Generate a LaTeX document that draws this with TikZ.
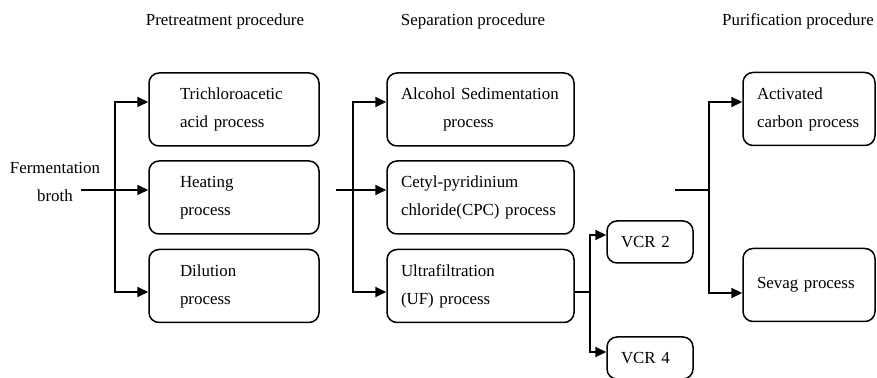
\documentclass[tikz,border=0pt]{standalone}
\usepackage{fontspec}
\setmainfont{Liberation Serif}
\usetikzlibrary{positioning,arrows.meta}
\tikzstyle{every node}=[font=\fontsize{8.45}{14}\selectfont]
\tikzstyle{procbox}=[draw=black,line width=0.75pt,rounded corners=5pt,align=left,inner ysep=0pt,minimum height=36.5pt]
\tikzstyle{pretreat}=[procbox,inner xsep=15.5pt,text width=54pt]
\tikzstyle{separate}=[procbox,inner xsep=7pt,text width=79.5pt]
\tikzstyle{vcrbox}=[procbox,inner xsep=7pt,text width=29pt,minimum height=21pt]
\tikzstyle{purify}=[procbox,inner xsep=7pt,text width=52pt]
\tikzstyle{feed}=[line width=1pt,-{Triangle[length=5.5pt,width=5pt]}]
\tikzstyle{plain}=[line width=1pt]

\begin{document}
\begin{tikzpicture}[x=0.5pt,y=-0.5pt]
\useasboundingbox (0,0) rectangle (877,378);
\node (t1) at (225,21) {Pretreatment procedure};
\node (t2) at (473,21) {Separation procedure};
\node (t3) at (798,21) {Purification procedure};
\node[align=center] (broth) at (55,182) {Fermentation\\broth};
\node[pretreat] (tca) at (234,109.5) {Trichloroacetic\\acid process};
\node[pretreat] (heat) at (234,197.5) {Heating\\process};
\node[pretreat] (dil) at (234,286) {Dilution\\process};
\node[separate] (alc) at (480.5,109.5) {Alcohol Sedimentation\\\hspace*{21pt}process};
\node[separate] (cpc) at (480.5,197.5) {Cetyl-pyridinium\\chloride(CPC) process};
\node[separate] (uf) at (480.5,286) {Ultrafiltration\\(UF) process};
\node[vcrbox] (vcr2) at (650,242) {VCR 2};
\node[vcrbox] (vcr4) at (650,358) {VCR 4};
\node[purify] (act) at (809,109) {Activated\\carbon process};
\node[purify] (sev) at (809,285) {Sevag process};
\coordinate (in1) at (81,190);
\coordinate (f1) at (115,190);
\coordinate (in2) at (336,190);
\coordinate (f2) at (353,190);
\coordinate (f3) at (590,292);
\coordinate (in4) at (675,190);
\coordinate (f4) at (709,190);
\draw[feed] (in1) -- ([yshift=3.75pt]heat.west);
\draw[feed] (f1) |- ([yshift=3.75pt]tca.west);
\draw[feed] (f1) |- ([yshift=-3pt]dil.west);
\draw[feed] (in2) -- ([yshift=3.75pt]cpc.west);
\draw[feed] (f2) |- ([yshift=3.75pt]alc.west);
\draw[feed] (f2) |- ([yshift=-3pt]uf.west);
\draw[plain] ([yshift=-3pt]uf.east) -- (f3);
\draw[feed] (f3) |- ([yshift=3.5pt]vcr2.west);
\draw[feed] (f3) |- ([yshift=3pt]vcr4.west);
\draw[plain] (in4) -- (f4);
\draw[feed] (f4) |- ([yshift=3.5pt]act.west);
\draw[feed] (f4) |- ([yshift=-4pt]sev.west);
\end{tikzpicture}
\end{document}
